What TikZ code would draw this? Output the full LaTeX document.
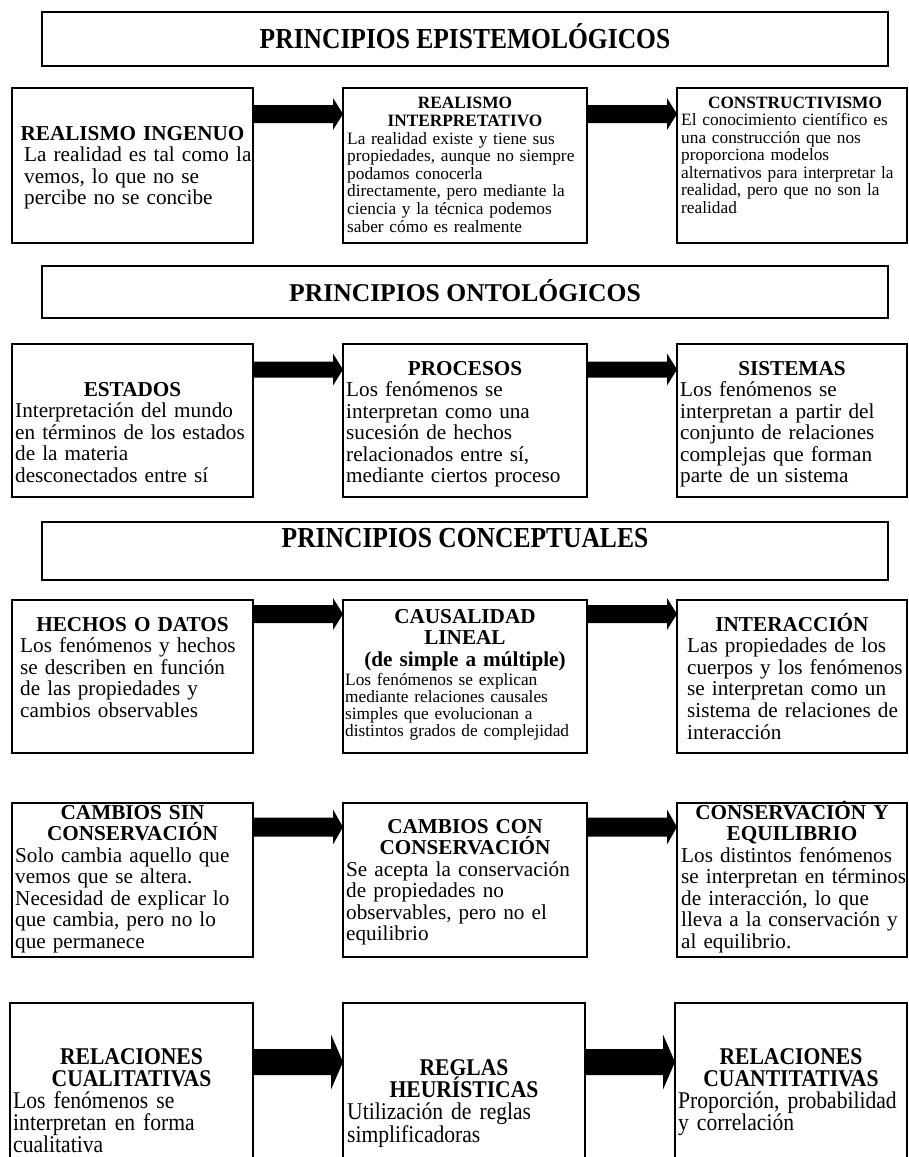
\documentclass[tikz,border=0pt]{standalone}
\usepackage{fontspec}
\setmainfont{Liberation Serif}
\newfontfamily\narrowserif[FakeStretch=0.9]{Liberation Serif}
\newfontfamily\narrowhead[FakeStretch=0.88]{Liberation Serif}
\usetikzlibrary{calc,fit}

\tikzset{
  cellbox/.style={draw, line width=2.2pt, rectangle, inner sep=0pt, outer sep=0pt},
  headtxt/.style={inner sep=0pt, align=center, anchor=base, text width=232pt,
    font=\fontsize{21.2}{21.6}\selectfont\bfseries},
  bodytxt/.style={inner sep=0pt, align=left, anchor=base west, text width=300pt,
    font=\fontsize{21.2}{21.6}\selectfont},
  headsmall/.style={headtxt, font=\fontsize{17.3}{17.6}\selectfont\bfseries},
  bodysmall/.style={bodytxt, font=\fontsize{17.3}{17.6}\selectfont},
  headnarrow/.style={headtxt, font=\narrowserif\fontsize{24}{22}\selectfont\bfseries},
  bodynarrow/.style={bodytxt, font=\narrowserif\fontsize{24}{22}\selectfont},
  bannertxt/.style={inner sep=0pt, anchor=base, font=\fontsize{25.6}{26}\selectfont\bfseries},
  bannernarrow/.style={bannertxt, font=\narrowhead\fontsize{29}{29}\selectfont\bfseries},
}

% thick block arrow from the east side of #1 to the west side of #2
% #3 = axis height, #4 = half shaft, #5 = half head, #6 = head length
\newcommand\fatarrow[6]{%
  \fill (#1.east |- 0,#3-#4)
    -- ($(#2.west |- 0,#3-#4)+(-#6,0)$)
    -- ($(#2.west |- 0,#3-#5)+(-#6,0)$)
    -- (#2.west |- 0,#3)
    -- ($(#2.west |- 0,#3+#5)+(-#6,0)$)
    -- ($(#2.west |- 0,#3+#4)+(-#6,0)$)
    -- (#1.east |- 0,#3+#4) -- cycle;}

\begin{document}
\begin{tikzpicture}[x=1pt,y=-1pt]
\useasboundingbox (0,0) rectangle (909,1157);
\fill[white] (0,0) rectangle (909,1157);
\clip (0,0) rectangle (909,1157);

% ---------- banner 1 ----------
\node[cellbox, fit={(42,12) (888,66)}] (ban1) {};
\node[bannernarrow] (ban1t) at (465,48) {PRINCIPIOS EPISTEMOLÓGICOS};

% ---------- row 1 ----------
\node[cellbox, fit={(12,88) (253,243)}] (r1a) {};
\node[cellbox, fit={(343,88) (587,243)}] (r1b) {};
\node[cellbox, fit={(677,88) (907,243)}] (r1c) {};
\fatarrow{r1a}{r1b}{114}{9}{16}{10}
\fatarrow{r1b}{r1c}{114}{9}{16}{10}

\node[headtxt] (r1ah) at (132.5,140) {REALISMO INGENUO};
\node[bodytxt] (r1ab) at (24,161.5) {La realidad es tal como la\\vemos, lo que no se\\percibe no se concibe};

\node[headsmall] (r1bh) at (465,108.5) {REALISMO\\INTERPRETATIVO};
\node[bodysmall] (r1bb) at (347,144) {La realidad existe y tiene sus\\propiedades, aunque no siempre\\podamos conocerla\\directamente, pero mediante la\\ciencia y la técnica podemos\\saber cómo es realmente};

\node[headsmall] (r1ch) at (795,108) {CONSTRUCTIVISMO};
\node[bodysmall] (r1cb) at (681,125.5) {El conocimiento científico es\\una construcción que nos\\proporciona modelos\\alternativos para interpretar la\\realidad, pero que no son la\\realidad};

% ---------- banner 2 ----------
\node[cellbox, fit={(42,266) (888,318)}] (ban2) {};
\node[bannertxt] (ban2t) at (465,301) {PRINCIPIOS ONTOLÓGICOS};

% ---------- row 2 ----------
\node[cellbox, fit={(12,344) (253,497)}] (r2a) {};
\node[cellbox, fit={(343,344) (587,497)}] (r2b) {};
\node[cellbox, fit={(677,344) (907,497)}] (r2c) {};
\fatarrow{r2a}{r2b}{369.5}{8}{16}{10}
\fatarrow{r2b}{r2c}{369.5}{8}{16}{10}

\node[headtxt] (r2ah) at (132.5,396) {ESTADOS};
\node[bodytxt] (r2ab) at (15,417.6) {Interpretación del mundo\\en términos de los estados\\de la materia\\desconectados entre sí};

\node[headtxt] (r2bh) at (465,375) {PROCESOS};
\node[bodytxt] (r2bb) at (346,396.5) {Los fenómenos se\\interpretan como una\\sucesión de hechos\\relacionados entre sí,\\mediante ciertos proceso};

\node[headtxt] (r2ch) at (792,375) {SISTEMAS};
\node[bodytxt] (r2cb) at (680,396.5) {Los fenómenos se\\interpretan a partir del\\conjunto de relaciones\\complejas que forman\\parte de un sistema};

% ---------- banner 3 ----------
\node[cellbox, fit={(42,522) (888,580)}] (ban3) {};
\node[bannernarrow] (ban3t) at (465,547) {PRINCIPIOS CONCEPTUALES};

% ---------- row 3 ----------
\node[cellbox, fit={(12,600) (253,753)}] (r3a) {};
\node[cellbox, fit={(343,600) (587,753)}] (r3b) {};
\node[cellbox, fit={(677,600) (907,753)}] (r3c) {};
\fatarrow{r3a}{r3b}{614}{9}{16}{10}
\fatarrow{r3b}{r3c}{614}{9}{16}{10}

\node[headtxt] (r3ah) at (132.5,631) {HECHOS O DATOS};
\node[bodytxt] (r3ab) at (20,652.6) {Los fenómenos y hechos\\se describen en función\\de las propiedades y\\cambios observables};

\node[headtxt] (r3bh) at (465,623) {CAUSALIDAD\\LINEAL\\(de simple a múltiple)};
\node[bodysmall, font=\fontsize{17.3}{17}\selectfont] (r3bb) at (345,685) {Los fenómenos se explican\\mediante relaciones causales\\simples que evolucionan a\\distintos grados de complejidad};

\node[headtxt] (r3ch) at (792,631) {INTERACCIÓN};
\node[bodytxt] (r3cb) at (687,652.6) {Las propiedades de los\\cuerpos y los fenómenos\\se interpretan como un\\sistema de relaciones de\\interacción};

% ---------- row 4 ----------
\node[cellbox, fit={(12,803) (253,957)}] (r4a) {};
\node[cellbox, fit={(343,803) (587,957)}] (r4b) {};
\node[cellbox, fit={(677,803) (907,957)}] (r4c) {};
\fatarrow{r4a}{r4b}{827}{9.5}{17.5}{10}
\fatarrow{r4b}{r4c}{827}{9.5}{17.5}{10}

\node[headtxt] (r4ah) at (132.5,819) {CAMBIOS SIN\\CONSERVACIÓN};
\node[bodytxt] (r4ab) at (15,862) {Solo cambia aquello que\\vemos que se altera.\\Necesidad de explicar lo\\que cambia, pero no lo\\que permanece};

\node[headtxt] (r4bh) at (465,833) {CAMBIOS CON\\CONSERVACIÓN};
\node[bodytxt] (r4bb) at (346,876) {Se acepta la conservación\\de propiedades no\\observables, pero no el\\equilibrio};

\node[headtxt] (r4ch) at (792,819) {CONSERVACIÓN Y\\EQUILIBRIO};
\node[bodytxt] (r4cb) at (681,862) {Los distintos fenómenos\\se interpretan en términos\\de interacción, lo que\\lleva a la conservación y\\al equilibrio.};

% ---------- row 5 ----------
\node[cellbox, fit={(10,1003) (253,1175)}] (r5a) {};
\node[cellbox, fit={(343,1003) (585,1175)}] (r5b) {};
\node[cellbox, fit={(675,1003) (907,1175)}] (r5c) {};
\fatarrow{r5a}{r5b}{1062}{13}{27.5}{12}
\fatarrow{r5b}{r5c}{1062}{13}{27.5}{12}

\node[headnarrow] (r5ah) at (131.5,1064) {RELACIONES\\CUALITATIVAS};
\node[bodynarrow] (r5ab) at (13,1108) {Los fenómenos se\\interpretan en forma\\cualitativa};

\node[headnarrow] (r5bh) at (464,1075) {REGLAS\\HEURÍSTICAS};
\node[bodynarrow] (r5bb) at (347,1119) {Utilización de reglas\\simplificadoras};

\node[headnarrow] (r5ch) at (791,1064) {RELACIONES\\CUANTITATIVAS};
\node[bodynarrow] (r5cb) at (678,1108) {Proporción, probabilidad\\y correlación};
\end{tikzpicture}
\end{document}
